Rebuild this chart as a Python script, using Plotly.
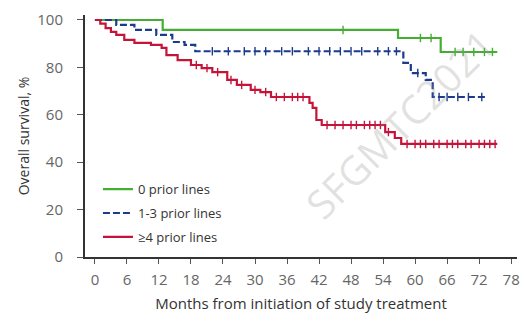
import plotly.graph_objects as go

# ---------------- data ----------------
x_ticks = [0, 6, 12, 18, 24, 30, 36, 42, 48, 54, 60, 66, 72, 78]
y_ticks = [0, 20, 40, 60, 80, 100]

green_name = "0 prior lines"
green_t = [0, 12.7, 56.8, 64.8, 75.4]
green_s = [100, 95.8, 92.4, 86.5, 86.5]
green_cens = [46.5, 61, 63, 67.5, 69, 71, 73, 74.5]

blue_name = "1-3 prior lines"
blue_t = [0, 4, 7.4, 11.5, 14.5, 16.8, 18.8, 57.8, 59.2, 62, 63.3, 73.2]
blue_s = [100, 97.9, 95.8, 93.7, 90.7, 89.5, 86.8, 81.9, 77.6, 74.7, 67.5, 67.5]
blue_cens = [22, 25, 28, 30, 32, 35, 37, 40, 42, 44, 46, 48, 50, 53, 55, 56.5,
             60.5, 64.5, 66, 68, 70, 72.5]

red_name = "≥4 prior lines"
red_t = [0, 1, 2, 3, 4, 5.5, 7.4, 10.5, 12.5, 13.4, 15.5, 18, 20, 22, 24.8, 26.6,
         29.2, 31, 33, 40.2, 40.8, 41.5, 42.5, 54.4, 56.2, 57.4, 75.4]
red_s = [100, 98.5, 96.6, 95, 93.7, 91.6, 90.3, 89.5, 88.2, 85.2, 83.1, 81, 79.7, 78,
         74.7, 72.6, 70.5, 69.6, 67.5, 65, 62.9, 57.8, 55.7, 52.7, 50.2, 47.7, 47.7]
red_cens = [19, 21, 23, 25.5, 27.5, 30, 32, 34, 35.5, 37, 38, 39, 43.5, 45, 46.5, 48,
            49, 50.5, 51.5, 52.5, 53.5, 55, 58.5, 60, 61, 62, 63.5, 64.5, 66, 67, 68,
            69.5, 70.5, 72, 73, 74, 75]

watermark = "SFGMTC2021"

GREEN = "#45ad34"
BLUE = "#1d3b8c"
RED = "#c4143a"


def step_value(ts, ss, t):
    v = ss[0]
    for ti, si in zip(ts, ss):
        if ti <= t:
            v = si
    return v


fig = go.Figure()

series = [
    (green_name, green_t, green_s, green_cens, GREEN, "solid"),
    (blue_name, blue_t, blue_s, blue_cens, BLUE, "7px,3px"),
    (red_name, red_t, red_s, red_cens, RED, "solid"),
]

for i, (name, ts, ss, cens, col, dash) in enumerate(series):
    fig.add_trace(go.Scatter(
        x=ts, y=ss, mode="lines", name=name, line_shape="hv",
        line=dict(color=col, width=2.2, dash=dash),
        legendgroup=f"g{i}",
    ))
    fig.add_trace(go.Scatter(
        x=cens, y=[step_value(ts, ss, c) for c in cens], mode="markers",
        showlegend=False, legendgroup=f"g{i}", hoverinfo="skip",
        marker=dict(symbol="line-ns", size=6, color=col,
                    line=dict(color=col, width=1.4)),
    ))

# watermark
fig.add_annotation(
    text=watermark, x=0.73, y=0.55, xref="paper", yref="paper",
    xanchor="center", yanchor="middle", showarrow=False, textangle=-45,
    font=dict(family="Open Sans", size=40, color="rgba(150,150,150,0.28)"),
)

fig.update_layout(
    width=526, height=320,
    margin=dict(l=85, r=6, t=15, b=63),
    plot_bgcolor="white", paper_bgcolor="white",
    font=dict(family="Open Sans", color="#444"),
    showlegend=True,
    legend=dict(x=0.03, y=0.02, xanchor="left", yanchor="bottom",
                bgcolor="rgba(0,0,0,0)", font=dict(size=13, color="#333"),
                tracegroupgap=4, itemwidth=30),
    xaxis=dict(
        range=[-1.86, 79.1], tickmode="array", tickvals=x_ticks,
        ticktext=[str(v) for v in x_ticks],
        showline=True, linecolor="#333", linewidth=2,
        ticks="outside", ticklen=5, tickcolor="#555", tickwidth=1,
        tickfont=dict(size=15, color="#666"), ticklabelstandoff=3,
        showgrid=False, zeroline=False,
        title=dict(text="Months from initiation of study treatment",
                   font=dict(size=15, color="#333"), standoff=10),
    ),
    yaxis=dict(
        range=[0, 102.1], tickmode="array", tickvals=y_ticks,
        ticktext=[str(v) for v in y_ticks],
        showline=True, linecolor="#333", linewidth=2,
        ticks="outside", ticklen=6, tickcolor="#555", tickwidth=1,
        tickfont=dict(size=15, color="#666"), ticklabelstandoff=11,
        showgrid=False, zeroline=False,
        title=dict(text="Overall survival, %", font=dict(size=14, color="#333"),
                   standoff=4),
    ),
)

fig.write_html("out.html")
